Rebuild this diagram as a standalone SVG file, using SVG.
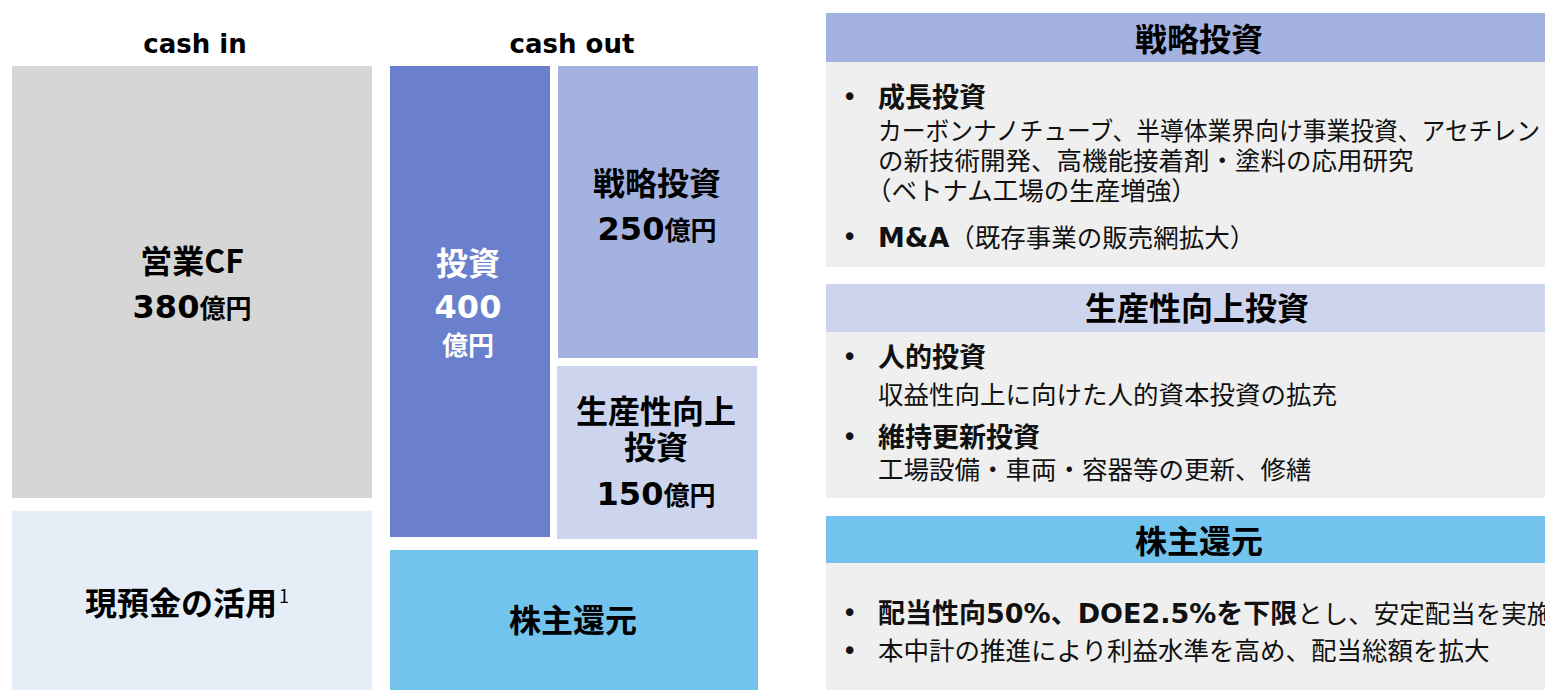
<svg xmlns="http://www.w3.org/2000/svg" width="1545" height="692" viewBox="0 0 1545 692">
<style>
.jp{font-family:"Noto Sans CJK JP","Noto Sans",sans-serif;}
.lat{font-family:"DejaVu Sans","Noto Sans CJK JP",sans-serif;}
.b{font-weight:bold;}
.lbl{font-family:"Noto Sans CJK JP",sans-serif;font-weight:bold;font-size:32px;fill:#000;text-anchor:middle;}
.num{font-family:"DejaVu Sans",sans-serif;font-weight:bold;font-size:32px;}
.unit{font-family:"Noto Sans CJK JP",sans-serif;font-weight:bold;font-size:26px;}
.hd{font-family:"Noto Sans CJK JP",sans-serif;font-weight:bold;font-size:32px;fill:#000;text-anchor:middle;}
.body{font-family:"Noto Sans CJK JP",sans-serif;font-weight:normal;font-size:25.5px;fill:#111;}
.bh{font-family:"DejaVu Sans","Noto Sans CJK JP",sans-serif;font-weight:bold;font-size:27px;fill:#111;}
.bul{font-family:"DejaVu Sans",sans-serif;font-size:26px;fill:#111;}
</style>
<rect width="1545" height="692" fill="#fff"/>
<g id="col-titles">
<text x="195" y="53" class="lat b" font-size="26" text-anchor="middle">cash in</text>
<text x="572" y="53" class="lat b" font-size="26" text-anchor="middle">cash out</text>
</g>
<g id="node-opcf">
<rect x="12" y="66" width="360" height="432" fill="#D6D6D6"/>
<text x="192" y="273" class="lbl">営業CF</text>
<text x="192" y="318" class="lbl"><tspan class="num">380</tspan><tspan class="unit">億円</tspan></text>
</g>
<g id="node-cash">
<rect x="12" y="511" width="360" height="179" fill="#E5EEF7"/>
<text x="187" y="615" class="lbl">現預金の活用<tspan class="jp" font-weight="normal" font-size="18" dx="2" dy="-12">1</tspan></text>
</g>
<g id="node-invest">
<rect x="390" y="66" width="160" height="471" fill="#6A80CC"/>
<text x="468" y="275" class="lbl" style="fill:#fff">投資</text>
<text x="468" y="318" class="num" fill="#fff" text-anchor="middle">400</text>
<text x="468" y="355" class="unit" fill="#fff" text-anchor="middle">億円</text>
</g>
<g id="node-strategic">
<rect x="558" y="66" width="200" height="292" fill="#A4B2E0"/>
<text x="657" y="195" class="lbl">戦略投資</text>
<text x="657" y="240" class="lbl"><tspan class="num">250</tspan><tspan class="unit">億円</tspan></text>
</g>
<g id="node-productivity">
<rect x="557" y="366" width="200" height="173" fill="#CDD5EE"/>
<text x="656" y="423" class="lbl">生産性向上</text>
<text x="656" y="459" class="lbl">投資</text>
<text x="656" y="505" class="lbl"><tspan class="num">150</tspan><tspan class="unit">億円</tspan></text>
</g>
<g id="node-return">
<rect x="390" y="550" width="368" height="140" fill="#72C4EE"/>
<text x="573" y="632" class="lbl">株主還元</text>
</g>
<g id="panel-strategic">
<rect x="826" y="13" width="719" height="49" fill="#A4B2E0"/>
<rect x="826" y="62" width="719" height="205" fill="#EFEFEF"/>
<text x="1199" y="51" class="hd">戦略投資</text>
<text x="842" y="106" class="bul">•</text>
<text x="878" y="107" class="bh">成長投資</text>
<text x="878" y="140" class="body" textLength="662" lengthAdjust="spacingAndGlyphs">カーボンナノチューブ、半導体業界向け事業投資、アセチレン</text>
<text x="878" y="170" class="body">の新技術開発、高機能接着剤・塗料の応用研究</text>
<text x="866" y="200" class="body">（ベトナム工場の生産増強）</text>
<text x="842" y="246" class="bul">•</text>
<text x="878" y="247" class="bh">M&amp;A<tspan class="body">（既存事業の販売網拡大）</tspan></text>
</g>
<g id="panel-productivity">
<rect x="826" y="284" width="719" height="48" fill="#CDD5EE"/>
<rect x="826" y="332" width="719" height="166" fill="#EFEFEF"/>
<text x="1197" y="320" class="hd">生産性向上投資</text>
<text x="842" y="366" class="bul">•</text>
<text x="878" y="367" class="bh">人的投資</text>
<text x="878" y="404" class="body">収益性向上に向けた人的資本投資の拡充</text>
<text x="842" y="446" class="bul">•</text>
<text x="878" y="447" class="bh">維持更新投資</text>
<text x="878" y="479" class="body">工場設備・車両・容器等の更新、修繕</text>
</g>
<g id="panel-return">
<rect x="826" y="516" width="719" height="47" fill="#72C4EE"/>
<rect x="826" y="563" width="719" height="127" fill="#EFEFEF"/>
<text x="1199" y="553" class="hd">株主還元</text>
<text x="842" y="622" class="bul">•</text>
<text x="878" y="623" class="bh">配当性向50%、DOE2.5%を下限<tspan class="body">とし、安定配当を実施</tspan></text>
<text x="842" y="660" class="bul">•</text>
<text x="878" y="660" class="body">本中計の推進により利益水準を高め、配当総額を拡大</text>
</g>
<g id="connectors"/>
</svg>
